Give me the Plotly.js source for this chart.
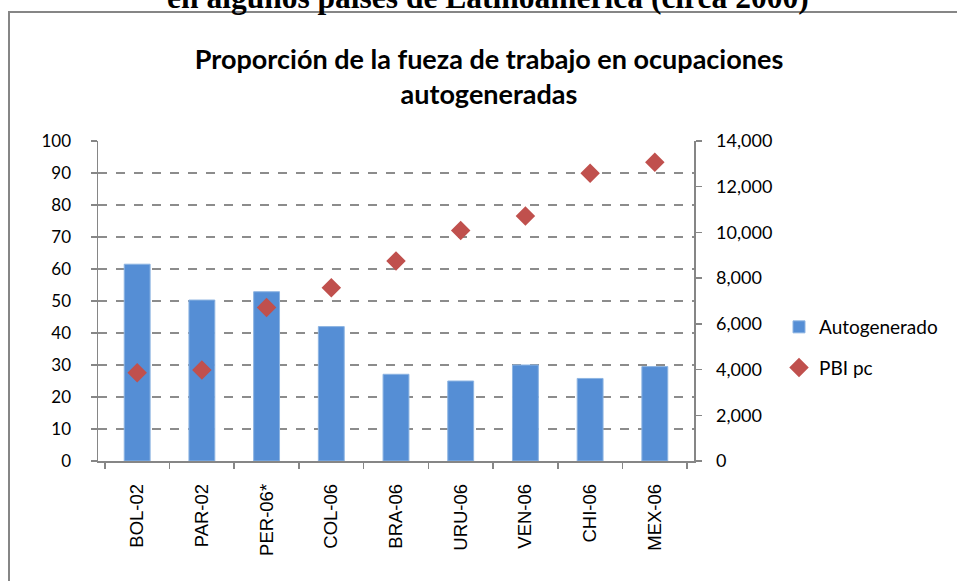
<!DOCTYPE html>
<html>
<head>
<meta charset="utf-8">
<script src="https://cdn.plot.ly/plotly-3.0.1.min.js"></script>
<style>html,body{margin:0;padding:0;background:#fff;}#chart{width:957px;height:581px;}</style>
</head>
<body>
<div id="chart"></div>
<script>
const categories = ["BOL-02","PAR-02","PER-06*","COL-06","BRA-06","URU-06","VEN-06","CHI-06","MEX-06"];
const autogenerado = [61.5, 50.3, 52.9, 42.0, 27.1, 25.0, 30.0, 25.8, 29.5];
const pbiPc = [3860, 3980, 6720, 7580, 8750, 10080, 10720, 12590, 13070];
const leftTicks = [0,10,20,30,40,50,60,70,80,90,100];
const rightTicks = [0,2000,4000,6000,8000,10000,12000,14000];

const PX = (p) => (p - 98) / 596;
const PY = (p) => (461 - p) / 320;

const traces = [
  {
    type: 'bar', name: 'Autogenerado', x: categories, y: autogenerado, legendgroup: 'a',
    marker: {color: '#558ED5', line: {color: '#8DB4E2', width: 1}},
    yaxis: 'y'
  },
  {
    type: 'scatter', mode: 'markers', name: 'PBI pc', x: categories, y: pbiPc, legendgroup: 'b',
    marker: {symbol: 'diamond', color: '#C0504D', size: 15, line: {color: '#B9504C', width: 0}},
    yaxis: 'y2'
  }
];

const axisFont = {family: 'Lato, "Open Sans", sans-serif', size: 17, color: '#000'};

const layout = {
  width: 957, height: 581,
  margin: {l: 98, r: 263, t: 141, b: 120, pad: 0},
  paper_bgcolor: '#fff', plot_bgcolor: '#fff',
  bargap: 0.6,
  showlegend: true,
  title: {
    text: 'Proporción de la fueza de trabajo en ocupaciones<br>autogeneradas',
    font: {family: 'Lato, "Open Sans", sans-serif', size: 27, color: '#000', weight: 'bold'},
    xref: 'container', x: 0.511, xanchor: 'center',
    yref: 'container', y: 1 - 69/581, yanchor: 'top'
  },
  xaxis: {
    type: 'category', tickangle: -90,
    showline: true, linecolor: '#868686', linewidth: 1.5,
    ticks: 'outside', ticklen: 6, tickcolor: '#868686', tickwidth: 1.5,
    tickson: 'boundaries', showgrid: false,
    tickfont: {family: '"Liberation Sans", Arial, sans-serif', size: 18.5, color: '#000'},
    ticklabelstandoff: 14
  },
  yaxis: {
    range: [0, 100], tickvals: leftTicks, ticktext: leftTicks.map(String),
    showline: true, linecolor: '#868686', linewidth: 1.5,
    ticks: 'outside', ticklen: 6, tickcolor: '#868686', tickwidth: 1.5,
    showgrid: true, gridcolor: '#8C8C8C', gridwidth: 1.5, griddash: 'dash',
    zeroline: false, tickfont: axisFont, ticklabelstandoff: 16
  },
  yaxis2: {
    overlaying: 'y', side: 'right', range: [0, 14000],
    tickvals: rightTicks, ticktext: rightTicks.map(v => v.toLocaleString('en-US')),
    showline: true, linecolor: '#868686', linewidth: 1.5,
    ticks: 'outside', ticklen: 6, tickcolor: '#868686', tickwidth: 1.5,
    showgrid: false, zeroline: false,
    tickfont: {family: 'Lato, "Open Sans", sans-serif', size: 18, color: '#000'},
    ticklabelstandoff: 11
  },
  legend: {
    x: PX(779), y: PY(308), xanchor: 'left', yanchor: 'top',
    font: {family: 'Lato, "Open Sans", sans-serif', size: 19, color: '#000'},
    bgcolor: 'rgba(0,0,0,0)', tracegroupgap: 13, itemwidth: 30, traceorder: 'grouped'
  },
  shapes: [
    {type: 'rect', xref: 'paper', yref: 'paper', x0: PX(9), x1: PX(975), y0: PY(600), y1: PY(12),
     line: {color: '#868686', width: 2}, fillcolor: 'rgba(0,0,0,0)', layer: 'below'}
  ],
  annotations: [
    {text: 'en algunos países de Latinoamérica (circa 2000)', xref: 'paper', yref: 'paper',
     x: PX(488), y: PY(17), xanchor: 'center', yanchor: 'bottom', showarrow: false,
     font: {family: '"Liberation Serif", "Times New Roman", serif', size: 31.5, color: '#000', weight: 'bold'}}
  ]
};

Plotly.newPlot('chart', traces, layout, {displayModeBar: false, staticPlot: true});
</script>
</body>
</html>
